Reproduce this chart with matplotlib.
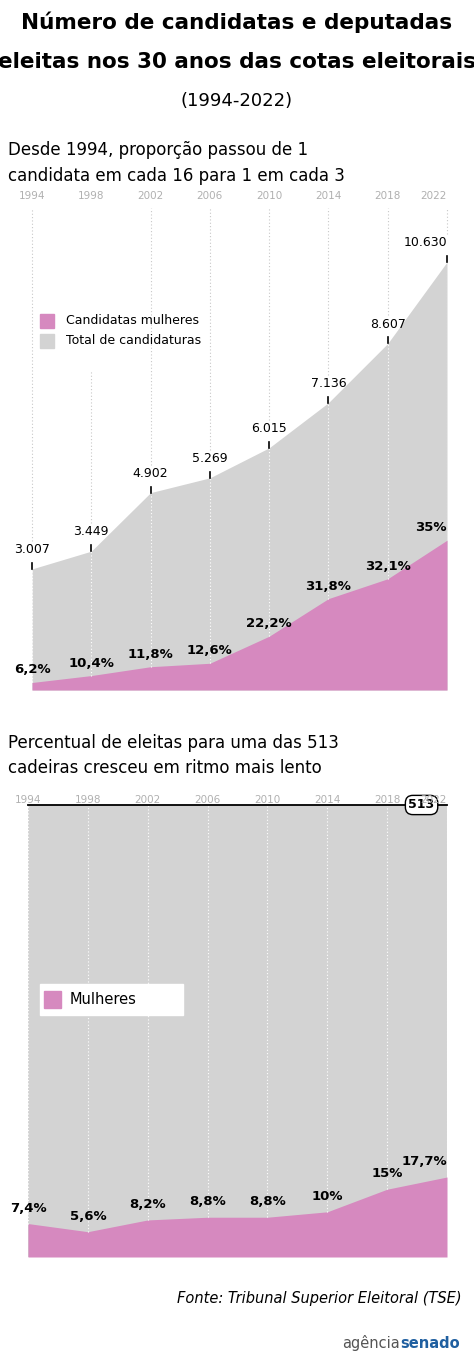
import matplotlib
matplotlib.use("Agg")
import matplotlib.pyplot as plt
from matplotlib.patches import Rectangle

years = [1994, 1998, 2002, 2006, 2010, 2014, 2018, 2022]
total_cand = [3007, 3449, 4902, 5269, 6015, 7136, 8607, 10630]
total_labels = ["3.007", "3.449", "4.902", "5.269", "6.015", "7.136", "8.607", "10.630"]
pct_cand = [6.2, 10.4, 11.8, 12.6, 22.2, 31.8, 32.1, 35.0]
pct_cand_labels = ["6,2%", "10,4%", "11,8%", "12,6%", "22,2%", "31,8%", "32,1%", "35%"]
seats = 513
pct_eleitas = [7.4, 5.6, 8.2, 8.8, 8.8, 10.0, 15.0, 17.7]
pct_eleitas_labels = ["7,4%", "5,6%", "8,2%", "8,8%", "8,8%", "10%", "15%", "17,7%"]

W, H = 474, 1371
FF = ['DejaVu Sans']
plt.rcParams['font.family'] = FF
PINK = '#d689bf'
GRAY = '#d3d3d3'
fig = plt.figure(figsize=(W/100, H/100), dpi=100)
fig.patch.set_facecolor('white')

def fx(x): return x / W
def fy(y): return 1 - y / H

fig.text(fx(237), fy(22), "Número de candidatas e deputadas", ha='center', va='center', fontsize=15.5, fontweight='bold')
fig.text(fx(237), fy(62), "eleitas nos 30 anos das cotas eleitorais", ha='center', va='center', fontsize=15.5, fontweight='bold')
fig.text(fx(237), fy(101), "(1994-2022)", ha='center', va='center', fontsize=13)
fig.text(fx(8), fy(150), "Desde 1994, proporção passou de 1", ha='left', va='center', fontsize=12)
fig.text(fx(8), fy(176), "candidata em cada 16 para 1 em cada 3", ha='left', va='center', fontsize=12)

# top chart
ax1 = fig.add_axes([fx(32), fy(690), fx(415), 428/H])
ax1.set_xlim(1994, 2022); ax1.set_ylim(0, 10630)
ax1.axis('off')
women = [t*p/100 for t, p in zip(total_cand, pct_cand)]
ax1.fill_between(years, 0, total_cand, color=GRAY, lw=0)
ax1.fill_between(years, 0, women, color=PINK, lw=0)
ppu = 428/10630
for i, y in enumerate(years):
    xp = 32 + (y-1994)/28*415
    fig.text(fx(xp), fy(196), str(y), ha='center' if y != 2022 else 'right', va='center', fontsize=7.5, color='#b0b0b0')
    ytop_px = 690 - total_cand[i]*ppu
    start = 370 if y == 1998 else 208
    ax1.plot([y, y], [women[i], total_cand[i]], color='white', ls=(0, (1, 2)), lw=0.8)
    ylo = (690 - (ytop_px - 28)) / ppu
    yhi = (690 - start) / ppu
    if yhi > ylo:
        ax1.plot([y, y], [ylo, yhi], color='#c8c8c8', ls=(0, (1, 2)), lw=0.8, clip_on=False)
    ax1.plot([y, y], [total_cand[i], total_cand[i] + 6/ppu], color='black', lw=1.2, clip_on=False)
    ax1.annotate(total_labels[i], (y, total_cand[i]), xytext=(0, 14), textcoords='offset points',
                 ha='center' if y != 2022 else 'right', va='center', fontsize=9)
    ax1.annotate(pct_cand_labels[i], (y, women[i]), xytext=(0, 9), textcoords='offset points',
                 ha='center' if y != 2022 else 'right', va='center', fontsize=9.5, fontweight='bold')

fig.patches.append(Rectangle((fx(40), fy(328)), fx(14), 14/H, color=PINK, transform=fig.transFigure))
fig.text(fx(66), fy(321), "Candidatas mulheres", ha='left', va='center', fontsize=9)
fig.patches.append(Rectangle((fx(40), fy(348)), fx(14), 14/H, color=GRAY, transform=fig.transFigure))
fig.text(fx(66), fy(341), "Total de candidaturas", ha='left', va='center', fontsize=9)

# bottom chart
fig.text(fx(8), fy(743), "Percentual de eleitas para uma das 513", ha='left', va='center', fontsize=12)
fig.text(fx(8), fy(768), "cadeiras cresceu em ritmo mais lento", ha='left', va='center', fontsize=12)
ax2 = fig.add_axes([fx(28), fy(1257), fx(419), 452/H])
ax2.set_xlim(1994, 2022); ax2.set_ylim(0, seats)
ax2.axis('off')
elei = [p/100*seats for p in pct_eleitas]
ax2.fill_between(years, 0, seats, color=GRAY, lw=0)
ax2.fill_between(years, 0, elei, color=PINK, lw=0)
for i, y in enumerate(years):
    xp = 28 + (y-1994)/28*419
    fig.text(fx(xp), fy(800), str(y), ha='center' if y != 2022 else 'right', va='center', fontsize=7.5, color='#b0b0b0')
    ax2.plot([y, y], [elei[i], seats], color='white', ls=(0, (1, 2)), lw=0.8)
    ax2.annotate(pct_eleitas_labels[i], (y, elei[i]), xytext=(0, 11), textcoords='offset points',
                 ha='center' if y not in (2022,) else 'right', va='center', fontsize=9.5, fontweight='bold')
ax2.plot([1994, 2022], [seats, seats], color='black', lw=1.3, clip_on=False)
ax2.text(2020.3, seats, "513", ha='center', va='center', fontsize=9, fontweight='bold',
         bbox=dict(boxstyle='round,pad=0.25,rounding_size=0.6', fc='white', ec='black', lw=1))
fig.patches.append(Rectangle((fx(40), fy(1015)), fx(143), 31/H, color='white', transform=fig.transFigure))
fig.patches.append(Rectangle((fx(44), fy(1008)), fx(17), 17/H, color=PINK, transform=fig.transFigure))
fig.text(fx(70), fy(999), "Mulheres", ha='left', va='center', fontsize=10.5)

fig.text(fx(462), fy(1298), "Fonte: Tribunal Superior Eleitoral (TSE)", ha='right', va='center', fontsize=10.5, style='italic')
fig.text(fx(400), fy(1343), "agência", ha='right', va='center', fontsize=10.5, color='#555555')
fig.text(fx(400), fy(1343), "senado", ha='left', va='center', fontsize=10.5, fontweight='bold', color='#1f5fa0')
fig.savefig("out.png", dpi=100, facecolor='white')
